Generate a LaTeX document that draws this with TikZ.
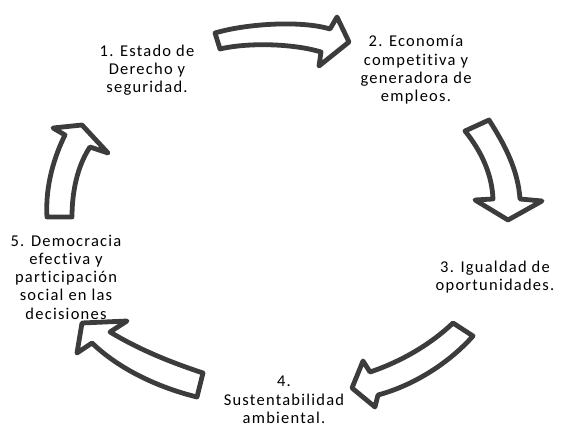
\documentclass[tikz,border=0pt]{standalone}
\usepackage{fontspec}
\setmainfont{Carlito}[LetterSpace=7.5, Ligatures=NoCommon]
\definecolor{arrowgray}{HTML}{3C3C3C}
\tikzset{
  bigarrow/.style={draw=arrowgray, fill=white, line width=4.8pt, line join=round},
  goaltext/.style={align=center, inner sep=0pt, font=\fontsize{16.5}{18.3}\selectfont}
}
\begin{document}
\begin{tikzpicture}[x=1pt, y=-1pt]
    \useasboundingbox (0,0) rectangle (562,427);

    % Goals
    \node[goaltext] (estado) at (147,70) {1. Estado de\\Derecho y\\seguridad.};
    \node[goaltext] (economia) at (416,70) {2. Economía\\competitiva y\\generadora de\\empleos.};
    \node[goaltext] (igualdad) at (495,277) {3. Igualdad de\\oportunidades.};
    \node[goaltext] (sustentabilidad) at (284,400) {4.\\Sustentabilidad\\ambiental.};
    \node[goaltext] (democracia) at (66,277) {5. Democracia\\efectiva y\\participación\\social en las\\decisiones};

    % Arrow 1 -> 2 (top)
    \draw[bigarrow] (215,33) .. controls (245,24) and (300,20) .. (330,29)
        -- (337,17) -- (349,42) -- (319,66) -- (321,52)
        .. controls (295,44) and (250,42) .. (220,49) -- cycle;

    % Arrow 2 -> 3 (right)
    \draw[bigarrow] (465,131) -- (489,120) .. controls (505,145) and (518,170) .. (520,199)
        -- (542,201) -- (508,220) -- (475,200) -- (493,199)
        .. controls (492,175) and (482,152) .. cycle;

    % Arrow 3 -> 4 (lower right)
    \draw[bigarrow] (453,323) -- (473,336) .. controls (450,362) and (415,385) .. (378,395)
        -- (375,407) -- (352,388) -- (363,361) -- (370,372)
        .. controls (400,362) and (430,345) .. cycle;

    % Arrow 4 -> 5 (lower left)
    \draw[bigarrow] (82,323) -- (127,321) -- (110,332)
        .. controls (140,350) and (170,362) .. (203,373) -- (197,397)
        .. controls (160,388) and (120,370) .. (92,343) -- (77,353) -- cycle;

    % Arrow 5 -> 1 (left)
    \draw[bigarrow] (47,217) .. controls (45,185) and (55,155) .. (65,135)
        -- (53,128) -- (82,125) -- (108,153) -- (90,147)
        .. controls (78,165) and (72,190) .. (72,217) -- cycle;
\end{tikzpicture}
\end{document}
